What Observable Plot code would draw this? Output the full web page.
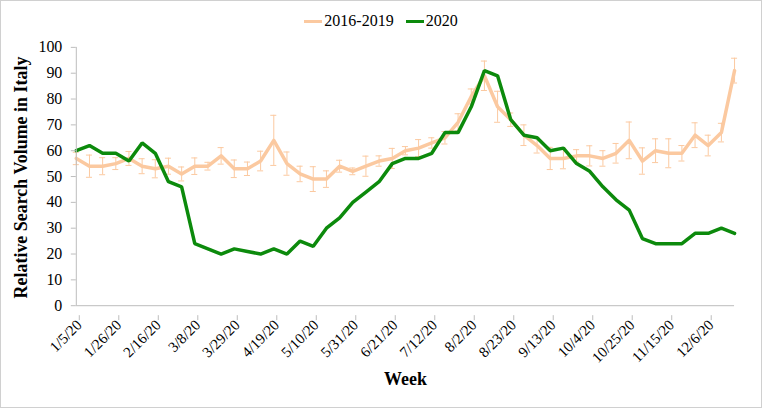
<!DOCTYPE html>
<html>
<head>
<meta charset="utf-8">
<script src="https://cdn.jsdelivr.net/npm/d3@7"></script>
<script src="https://cdn.jsdelivr.net/npm/@observablehq/plot@0.6"></script>
<style>
  html, body { margin: 0; padding: 0; background: #fff; }
  #wrap { position: relative; width: 762px; height: 408px; box-sizing: border-box; border: 1.5px solid #d0d0d0; overflow: hidden; }
  #wrap svg { position: absolute; left: -1.5px; top: -1.5px; font-family: "Liberation Serif", "Times New Roman", Times, "DejaVu Serif", serif !important; }
  #wrap svg text { font-family: "Liberation Serif", "Times New Roman", Times, "DejaVu Serif", serif; }
  #legend { position: absolute; top: 11px; left: 0; width: 100%; display: flex; justify-content: center; font-family: "Liberation Serif", "Times New Roman", Times, "DejaVu Serif", serif; font-size: 16px; color: #000; z-index: 2; }
  .item { display: flex; align-items: center; margin: 0 6px; }
  .sw { width: 18px; height: 3px; margin-right: 2px; }
</style>
</head>
<body>
<div id="wrap">
  <div id="legend"></div>
</div>
<script>
const weekStart = "2020-01-05";
const baseline = [57,54,54,55,57,54,53,54,51,54,54,58,53,53,56,64,55,51,49,49,54,52,54,56,57,60,61,63,65,71,81,89,77,72,66,62,57,57,58,58,57,59,64,56,60,59,59,66,62,67,91];
const baselineErr = [2.4,4.3,3.3,2.3,2.7,2.9,3.5,3.1,2.7,3.2,1.5,3.2,3.4,2.6,3.8,9.7,4.5,3,4.8,3.2,2.3,1.3,3.9,2,3.9,1.6,3.3,2,2.4,3.3,2.9,5.7,6,2.6,4,2.9,4.3,4,2.4,3.9,3,3.8,7.1,5.1,4.6,5.6,3,4.8,4,3.6,4.8];
const y2020 = [60,62,59,59,56,63,59,48,46,24,22,20,22,21,20,22,20,25,23,30,34,40,44,48,55,57,57,59,67,67,77,91,89,72,66,65,60,61,55,52,46,41,37,26,24,24,24,28,28,30,28];
const tickLabels = ["1/5/20","1/26/20","2/16/20","3/8/20","3/29/20","4/19/20","5/10/20","5/31/20","6/21/20","7/12/20","8/2/20","8/23/20","9/13/20","10/4/20","10/25/20","11/15/20","12/6/20"];
const seriesNames = ["2016-2019", "2020"];
const colors = ["#fbc9a0", "#0c8a0c"];

const t0 = new Date(weekStart + "T00:00:00Z");
const DAY = 864e5;
const dates = baseline.map((_, i) => new Date(+t0 + i * 7 * DAY));
const parseTick = s => { const [m, d, y] = s.split("/").map(Number); return new Date(Date.UTC(2000 + y, m - 1, d)); };
const ticks = tickLabels.map(parseTick);
const fmt = d => `${d.getUTCMonth() + 1}/${d.getUTCDate()}/${String(d.getUTCFullYear()).slice(2)}`;

const base = dates.map((d, i) => ({date: d, v: baseline[i], lo: baseline[i] - baselineErr[i], hi: baseline[i] + baselineErr[i],
  c1: new Date(+d - 1.6 * DAY), c2: new Date(+d + 1.6 * DAY)}));
const cur = dates.map((d, i) => ({date: d, v: y2020[i]}));

const serif = "'Liberation Serif', 'Times New Roman', Times, 'DejaVu Serif', serif";
const chart = Plot.plot({
  width: 762, height: 408,
  marginLeft: 76, marginRight: 26, marginTop: 47, marginBottom: 102,
  style: {fontFamily: serif, fontSize: "14px", color: "#000", background: "transparent"},
  x: {type: "utc", domain: [dates[0], dates[dates.length - 1]]},
  y: {domain: [0, 100]},
  marks: [
    Plot.ruleX(base, {x: "date", y1: "lo", y2: "hi", stroke: colors[0], strokeWidth: 1}),
    Plot.ruleY(base, {y: "lo", x1: "c1", x2: "c2", stroke: colors[0], strokeWidth: 1}),
    Plot.ruleY(base, {y: "hi", x1: "c1", x2: "c2", stroke: colors[0], strokeWidth: 1}),
    Plot.line(base, {x: "date", y: "v", stroke: colors[0], strokeWidth: 3.5, strokeLinejoin: "round"}),
    Plot.line(cur, {x: "date", y: "v", stroke: colors[1], strokeWidth: 3.5, strokeLinejoin: "miter"}),
    Plot.axisY({ticks: d3.range(0, 101, 10), tickSize: 5, tickPadding: 9, fontSize: 16, label: null, stroke: "#bdbdbd"}),
    Plot.ruleX([dates[0]], {stroke: "#bdbdbd", strokeWidth: 1}),
    Plot.ruleY([0], {stroke: "#bdbdbd", strokeWidth: 1}),
    Plot.axisX({ticks: ticks, tickFormat: fmt, tickSize: 5, tickRotate: -45, tickPadding: 2, fontSize: 15, label: null, stroke: "#bdbdbd", dx: 3, dy: 10}),
    Plot.text(["Relative Search Volume in Italy"], {frameAnchor: "left", textAnchor: "middle", dx: -55, dy: 1, rotate: -90, fontWeight: "bold", fontSize: 18}),
    Plot.text(["Week"], {frameAnchor: "bottom", dy: 80, fontWeight: "bold", fontSize: 18})
  ]
});
document.getElementById("wrap").appendChild(chart);

const legend = document.getElementById("legend");
seriesNames.forEach((n, i) => {
  const it = document.createElement("div"); it.className = "item";
  const sw = document.createElement("div"); sw.className = "sw"; sw.style.background = colors[i];
  const tx = document.createElement("span"); tx.textContent = n;
  it.appendChild(sw); it.appendChild(tx); legend.appendChild(it);
});
</script>
</body>
</html>
